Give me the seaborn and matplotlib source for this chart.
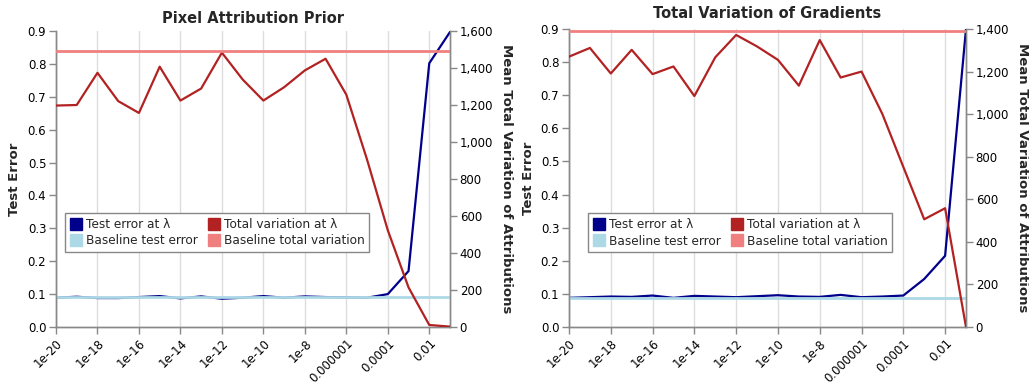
import numpy as np
import pandas as pd
import matplotlib
matplotlib.use("Agg")
import matplotlib.pyplot as plt
from matplotlib.lines import Line2D
from matplotlib.ticker import FuncFormatter, NullLocator
import seaborn as sns

# ---------------- data ----------------
lambdas = [1e-20, 1e-19, 1e-18, 1e-17, 1e-16, 1e-15, 1e-14, 1e-13, 1e-12, 1e-11,
           1e-10, 1e-9, 1e-8, 1e-7, 1e-6, 1e-5, 1e-4, 1e-3, 1e-2, 1e-1]

pixel_test_error = [0.089, 0.092, 0.088, 0.088, 0.091, 0.094, 0.087, 0.093, 0.086, 0.089,
                    0.094, 0.089, 0.093, 0.091, 0.090, 0.089, 0.100, 0.170, 0.802, 0.897]
pixel_total_var = [1197, 1200, 1374, 1221, 1157, 1407, 1224, 1289, 1483, 1338,
                   1224, 1296, 1387, 1450, 1256, 905, 523, 214, 11, 2]
pixel_baseline_err = 0.090
pixel_baseline_tv = 1491

grad_test_error = [0.088, 0.090, 0.092, 0.091, 0.095, 0.088, 0.094, 0.092, 0.090, 0.093,
                   0.096, 0.092, 0.091, 0.097, 0.090, 0.092, 0.095, 0.145, 0.215, 0.900]
grad_total_var = [1270, 1311, 1191, 1302, 1188, 1224, 1085, 1267, 1372, 1318,
                  1255, 1134, 1348, 1172, 1200, 1000, 752, 506, 558, 0]
grad_baseline_err = 0.089
grad_baseline_tv = 1389

titles = ["Pixel Attribution Prior", "Total Variation of Gradients"]
xtick_values = [1e-20, 1e-18, 1e-16, 1e-14, 1e-12, 1e-10, 1e-8, 1e-6, 1e-4, 1e-2]
xtick_labels = ["1e-20", "1e-18", "1e-16", "1e-14", "1e-12", "1e-10", "1e-8",
                "0.000001", "0.0001", "0.01"]
left_ticks = [0.0, 0.1, 0.2, 0.3, 0.4, 0.5, 0.6, 0.7, 0.8, 0.9]
right_max = [1600, 1400]
legend_labels = ["Test error at λ", "Baseline test error",
                 "Total variation at λ", "Baseline total variation"]

C_ERR = "#00008b"
C_BERR = "#add8e6"
C_TV = "#b22222"
C_BTV = "#f08080"
AX_GRAY = "#888888"
GRID = "#dddddd"
TXT = "#000000"

sns.set_style("white")
plt.rcParams["font.family"] = ["DejaVu Sans"]

fig = plt.figure(figsize=(10.29, 3.89), dpi=100)
rects = [[56 / 1029, 62 / 389, 394 / 1029, 296 / 389],
         [569 / 1029, 62 / 389, 397 / 1029, 298 / 389]]
legend_anchor = [(9 / 394, 0.385), (19 / 397, 0.382)]
left_pad = [5, 4]
right_pad = [14, 14]
title_pad = [6, 8]

panels = [
    (pixel_test_error, pixel_total_var, pixel_baseline_err, pixel_baseline_tv),
    (grad_test_error, grad_total_var, grad_baseline_err, grad_baseline_tv),
]

for i, (err, tv, berr, btv) in enumerate(panels):
    df = pd.DataFrame({"lam": lambdas, "err": err, "tv": tv,
                       "berr": [berr] * len(lambdas), "btv": [btv] * len(lambdas)})
    ax = fig.add_axes(rects[i])
    ax2 = ax.twinx()

    sns.lineplot(data=df, x="lam", y="err", ax=ax, color=C_ERR, linewidth=1.6, zorder=3)
    sns.lineplot(data=df, x="lam", y="berr", ax=ax, color=C_BERR, linewidth=2.0, zorder=4)
    sns.lineplot(data=df, x="lam", y="tv", ax=ax2, color=C_TV, linewidth=1.6, zorder=3)
    sns.lineplot(data=df, x="lam", y="btv", ax=ax2, color=C_BTV, linewidth=2.0, zorder=4)

    ax.set_xscale("log")
    ax.set_xlim(lambdas[0], lambdas[-1])
    ax.set_xticks(xtick_values)
    ax.set_xticklabels(xtick_labels, rotation=45, ha="right", va="top",
                       rotation_mode="anchor", fontsize=8.5, color=TXT)
    ax.xaxis.set_minor_locator(NullLocator())
    ax.grid(axis="x", color=GRID, linewidth=1.0)
    ax.grid(axis="y", visible=False)
    ax2.grid(False)

    ax.set_ylim(0, 0.9)
    ax.set_yticks(left_ticks)
    ax.yaxis.set_major_formatter(FuncFormatter(lambda v, p: f"{v:.1f}"))
    ax2.set_ylim(0, right_max[i])
    ax2.set_yticks(list(range(0, right_max[i] + 1, 200)))
    ax2.yaxis.set_major_formatter(FuncFormatter(lambda v, p: f"{int(v):,}"))

    for a in (ax, ax2):
        for s in a.spines.values():
            s.set_color(AX_GRAY)
            s.set_linewidth(1.0)
        a.spines["top"].set_visible(False)
        a.tick_params(axis="both", colors=AX_GRAY, labelcolor=TXT, length=5,
                      width=1, labelsize=8.5, direction="out")
    ax.tick_params(axis="y", left=True, pad=2)
    ax2.tick_params(axis="y", right=True, pad=2)
    ax.tick_params(axis="x", bottom=True, pad=2)

    ax.set_xlabel("λ", fontsize=13, fontweight="bold", labelpad=8)
    ax.set_ylabel("Test Error", fontsize=9.5, fontweight="bold", labelpad=left_pad[i])
    ax2.set_ylabel("Mean Total Variation of Attributions", fontsize=9.5,
                   fontweight="bold", rotation=270, labelpad=right_pad[i])
    ax.set_title(titles[i], fontsize=10.5, fontweight="bold", pad=title_pad[i])

    handles = [Line2D([], [], marker="s", linestyle="none", markersize=8.5, color=c)
               for c in (C_ERR, C_BERR, C_TV, C_BTV)]
    leg = ax2.legend(handles, legend_labels, ncol=2, loc="upper left",
                     bbox_to_anchor=legend_anchor[i], fontsize=8.7, frameon=True,
                     fancybox=False, framealpha=1, edgecolor=AX_GRAY,
                     handletextpad=0.3, columnspacing=0.9, handlelength=1.0,
                     borderpad=0.4, labelspacing=0.3, borderaxespad=0)
    leg.get_frame().set_linewidth(1.0)
    leg.set_zorder(10)

fig.savefig("out.png", dpi=100)
